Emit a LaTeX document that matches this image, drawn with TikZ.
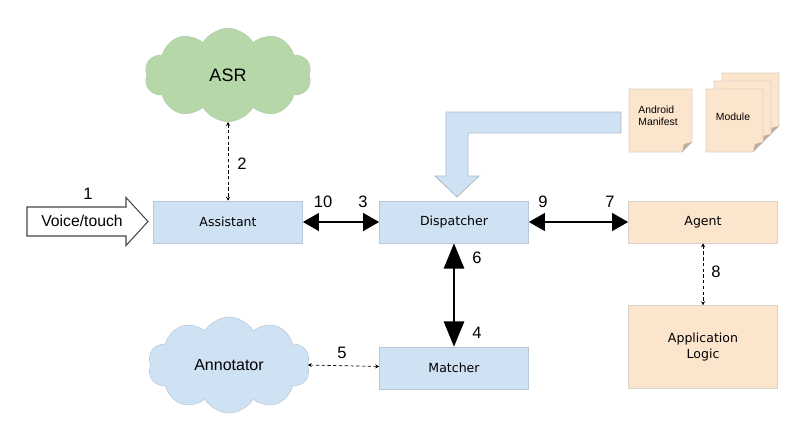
\documentclass[tikz,border=0pt]{standalone}
\usepackage{fontspec}
\setmainfont{Liberation Sans}
\newfontfamily\boxfont{DejaVu Sans}
\definecolor{boxblue}{RGB}{207,226,243}
\definecolor{lineblue}{RGB}{185,200,215}
\definecolor{boxorange}{RGB}{252,229,205}
\definecolor{lineorange}{RGB}{218,210,200}
\definecolor{cloudgreen}{RGB}{182,215,168}
\definecolor{linegreen}{RGB}{175,205,165}
\definecolor{foldgray}{RGB}{190,175,158}
\definecolor{darkline}{RGB}{70,70,70}
\usetikzlibrary{arrows.meta,shapes.symbols}

\begin{document}
\begin{tikzpicture}[x=0.75pt,y=-0.75pt,
      comp/.style={draw=lineblue,fill=boxblue,minimum width=111.75pt,minimum height=31.5pt,
                   inner sep=0pt,font=\boxfont\fontsize{9.4}{11.5}\selectfont,align=center},
      side/.style={comp,draw=lineorange,fill=boxorange},
      puff/.style={cloud,cloud puffs=10,cloud puff arc=120,aspect=1.8,inner sep=0pt},
      num/.style={font=\fontsize{12.4}{14}\selectfont},
      sheet/.style={fill=boxorange,draw=lineorange,line width=0.5pt},
      fold/.style={fill=foldgray,draw=none},
      flow/.style={{Triangle[length=12pt,width=13pt]}-{Triangle[length=12pt,width=13pt]},line width=2.2pt},
      vflow/.style={{Triangle[length=19pt,width=15pt]}-{Triangle[length=19pt,width=15pt]},line width=2.2pt},
      talk/.style={{Stealth[length=3pt,width=3pt]}-{Stealth[length=3pt,width=3pt]},
                   line width=0.5pt,dash pattern=on 2.5pt off 1.8pt}
    ]
      \useasboundingbox (0,0) rectangle (812,446);
      % Clouds
      \node[puff,fill=cloudgreen,draw=linegreen,minimum width=125pt,minimum height=70pt,
            font=\fontsize{13.5}{16}\selectfont] (asr) at (228,75) {ASR};
      \node[puff,fill=boxblue,draw=lineblue,minimum width=121.5pt,minimum height=72pt,
            font=\fontsize{12}{14}\selectfont] (annot) at (229,365) {Annotator};
      % Main components
      \node[comp] (assist) at (228,222) {Assistant};
      \node[comp] (disp)   at (454,222) {Dispatcher};
      \node[comp] (match)  at (454,368) {Matcher};
      \node[side] (agent)  at (703,222) {Agent};
      \node[side,minimum height=62.25pt] (app) at (703,347) {Application\\Logic};
      % Input arrow
      \draw[fill=white,draw=darkline,line width=0.8pt]
        (27,207) -- (126,207) -- (126,197.5) -- (148,221.5) -- (126,245.5) -- (126,236) -- (27,236) -- cycle;
      \node[font=\fontsize{11.8}{14}\selectfont] (input) at (82,221) {Voice/touch};
      % Manifest and module sheets
      \draw[sheet] (629,89) -- (692,89) -- (692,142) -- (682,152) -- (629,152) -- cycle;
      \fill[fold] (682,152) -- (692,142) -- (684,144) -- cycle;
      \foreach \d in {16,8,0}{
        \draw[sheet] ({706+\d},{89-\d}) -- ++(57,0) -- ++(0,53) -- ++(-10,10) -- ++(-47,0) -- cycle;
        \fill[fold] ({753+\d},{152-\d}) -- ++(10,-10) -- ++(-8,2) -- cycle;
      }
      \node[font=\fontsize{7.8}{9.2}\selectfont,align=left] (manifest) at (658,116) {Android\\Manifest};
      \node[font=\fontsize{7.8}{9.2}\selectfont] (module) at (733,117) {Module};
      % Bent arrow into dispatcher
      \draw[fill=boxblue,draw=lineblue!80!gray,line width=0.6pt]
        (621,112) -- (446,112) -- (446,176) -- (435,176) -- (457,197) -- (479,176)
        -- (468,176) -- (468,133) -- (621,133) -- cycle;
      % Connections
      \draw[flow]  (assist) -- (disp);
      \draw[flow]  (disp) -- (agent);
      \draw[vflow] (disp) -- (match);
      \draw[talk]  (asr.south) -- (assist);
      \draw[talk]  (annot.east) -- (match);
      \draw[talk]  (agent) -- (app);
      % Step numbers
      \node[num] (n1)  at (88,194)  {1};
      \node[num] (n2)  at (242,164) {2};
      \node[num] (n3)  at (363,202) {3};
      \node[num] (n4)  at (477,333) {4};
      \node[num] (n5)  at (342,353) {5};
      \node[num] (n6)  at (477,258) {6};
      \node[num] (n7)  at (610,202) {7};
      \node[num] (n8)  at (716,272) {8};
      \node[num] (n9)  at (543,202) {9};
      \node[num] (n10) at (323,202) {10};
    \end{tikzpicture}
\end{document}
